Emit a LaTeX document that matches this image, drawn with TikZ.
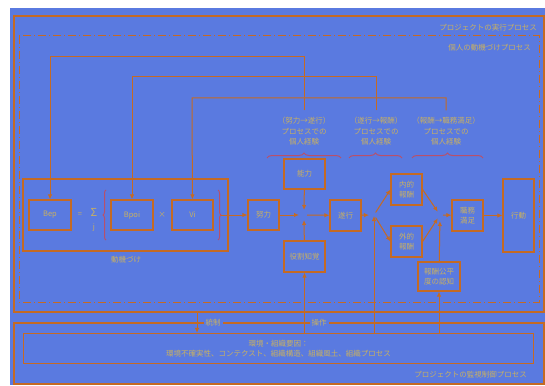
\documentclass[tikz,border=0pt]{standalone}
\usepackage{fontspec}
\setmainfont{Noto Sans CJK JP}
\usetikzlibrary{arrows.meta,decorations.pathreplacing}
\definecolor{bgblue}{HTML}{5A7AE0}
\definecolor{lnorange}{HTML}{C46A24}
\definecolor{txtyel}{HTML}{C8B062}
\definecolor{brred}{HTML}{B8506A}

\begin{document}
\begin{tikzpicture}[x=1pt,y=-1pt,
  txt/.style={font=\fontsize{7.5}{10.5}\selectfont,text=txtyel,inner sep=1pt,align=center},
  box/.style={txt,draw=lnorange,line width=1.2pt,inner sep=0pt},
  ln/.style={draw=lnorange,line width=1pt},
  arr/.style={ln,-{Latex[length=5pt,width=4.5pt]}},
  frame/.style={draw=lnorange,line width=2pt},
  tag/.style={txt,fill=bgblue,inner sep=2pt},
  brc/.style={draw=brred,line width=1pt,decorate,decoration={brace,amplitude=#1}}]
\useasboundingbox (0,0) rectangle (545,385);
\fill[bgblue] (10,8) rectangle (545,385);
% process frames
\draw[frame] (14,16) rectangle (544,312);
\draw[lnorange,line width=1pt,dash pattern=on 8pt off 3pt on 1pt off 3pt] (19,36) rectangle (539,302);
\draw[frame] (14,323) rectangle (544,384);
\node[txt,anchor=east] at (538,28) {プロジェクトの実行プロセス};
\node[txt,anchor=east] at (532,48) {個人の動機づけプロセス};
\node[txt,anchor=east] at (528,375) {プロジェクトの監視制御プロセス};

% motivation
\node[box,minimum width=205,minimum height=72] (motiv) at (125.5,215) {};
\node[txt] at (126,260) {動機づけ};
\node[box,minimum width=42,minimum height=30] (bep) at (50,215) {Bep};
\node[txt] at (80,215) {=};
\node[txt,font=\fontsize{11}{11}\selectfont] at (94,212) {Σ};
\node[txt] at (94,227) {j};
\node[box,minimum width=42,minimum height=30] (bpoi) at (132,215) {Bpoi};
\node[txt] at (162,215) {×};
\node[box,minimum width=41,minimum height=30] (vi) at (192.5,215) {Vi};
\draw[brc=3pt] (106,240) -- (106,190);
\draw[brc=3pt] (218,190) -- (218,240);
\coordinate (brtip) at (221,215);

% main chain
\node[box,minimum width=31,minimum height=30] (effort) at (263.5,215) {努力};
\node[box,minimum width=41,minimum height=30] (abil) at (304.5,174) {能力};
\node[box,minimum width=41,minimum height=31] (role) at (304.5,256.5) {役割知覚};
\node[box,minimum width=31,minimum height=31] (perf) at (345.5,215.5) {遂行};
\node[box,minimum width=31,minimum height=31] (inrew) at (406.5,189.5) {内的\\報酬};
\node[box,minimum width=31,minimum height=31] (exrew) at (406.5,241.5) {外的\\報酬};
\node[box,minimum width=31,minimum height=31] (satis) at (467.5,215.5) {職務\\満足};
\node[box,minimum width=31,minimum height=73] (behav) at (518.5,215.5) {行動};
\node[box,minimum width=42,minimum height=29] (equity) at (439,276.5) {報酬公平\\度の認知};
\coordinate (j1) at (304,215);
\coordinate (j2) at (374,215);
\coordinate (j3) at (440,215);

\draw[arr] (brtip) -- (effort);
\draw[arr,shorten >=5pt] (effort) -- (j1);
\draw[arr,shorten >=5pt] (abil) -- (j1);
\draw[arr,shorten >=5pt] (role) -- (j1);
\draw[arr,shorten <=3pt] (j1) -- (perf);
\draw[arr,shorten >=5pt] (perf) -- (j2);
\draw[arr,shorten <=3pt] (j2) -- (inrew.west);
\draw[arr,shorten <=3pt] (j2) -- (exrew.west);
\draw[arr,shorten >=4pt] (inrew.east) -- (j3);
\draw[arr,shorten >=4pt] (exrew.east) -- (j3);
\draw[arr,shorten >=6pt] (equity) -- (j3);
\draw[arr,shorten <=3pt] (j3) -- (satis);
\draw[arr] (satis) -- (behav);

% personal experience
\node[txt] (exp1) at (304,131.5) {（努力→遂行）\\プロセスでの\\個人経験};
\node[txt] (exp2) at (376,131.5) {（遂行→報酬）\\プロセスでの\\個人経験};
\node[txt] (exp3) at (446,131.5) {（報酬→職務満足）\\プロセスでの\\個人経験};
\draw[brc=5pt] (267,158) -- (341,158);
\draw[brc=5pt] (349,158) -- (402,158);
\draw[brc=5pt] (412,158) -- (483,158);
\coordinate (fb1) at (50,57);
\coordinate (fb2) at (132,77);
\coordinate (fb3) at (192,98);
\draw[arr] ([yshift=6pt]exp1.north) |- (fb1) -- (bep);
\draw[arr] ([yshift=6pt]exp2.north) |- (fb2) -- (bpoi);
\draw[arr] ([yshift=6pt]exp3.north) |- (fb3) -- (vi);

% environment
\node[box,minimum width=510,minimum height=30] (env) at (278.5,348.5) {環境・組織要因：\\環境不確実性、コンテクスト、組織構造、組織風土、組織プロセス};
\coordinate (ctl) at (197,312);
\draw[arr] (ctl) -- (ctl |- env.north);
\draw[arr] (role.south |- env.north) -- (role);
\draw[arr,shorten >=1pt] (j2 |- env.north) -- (j2);
\draw[arr] (equity.south |- env.north) -- (equity);
\node[tag] at (213,323) {統制};
\node[tag] at (319,323) {操作};
\end{tikzpicture}
\end{document}
